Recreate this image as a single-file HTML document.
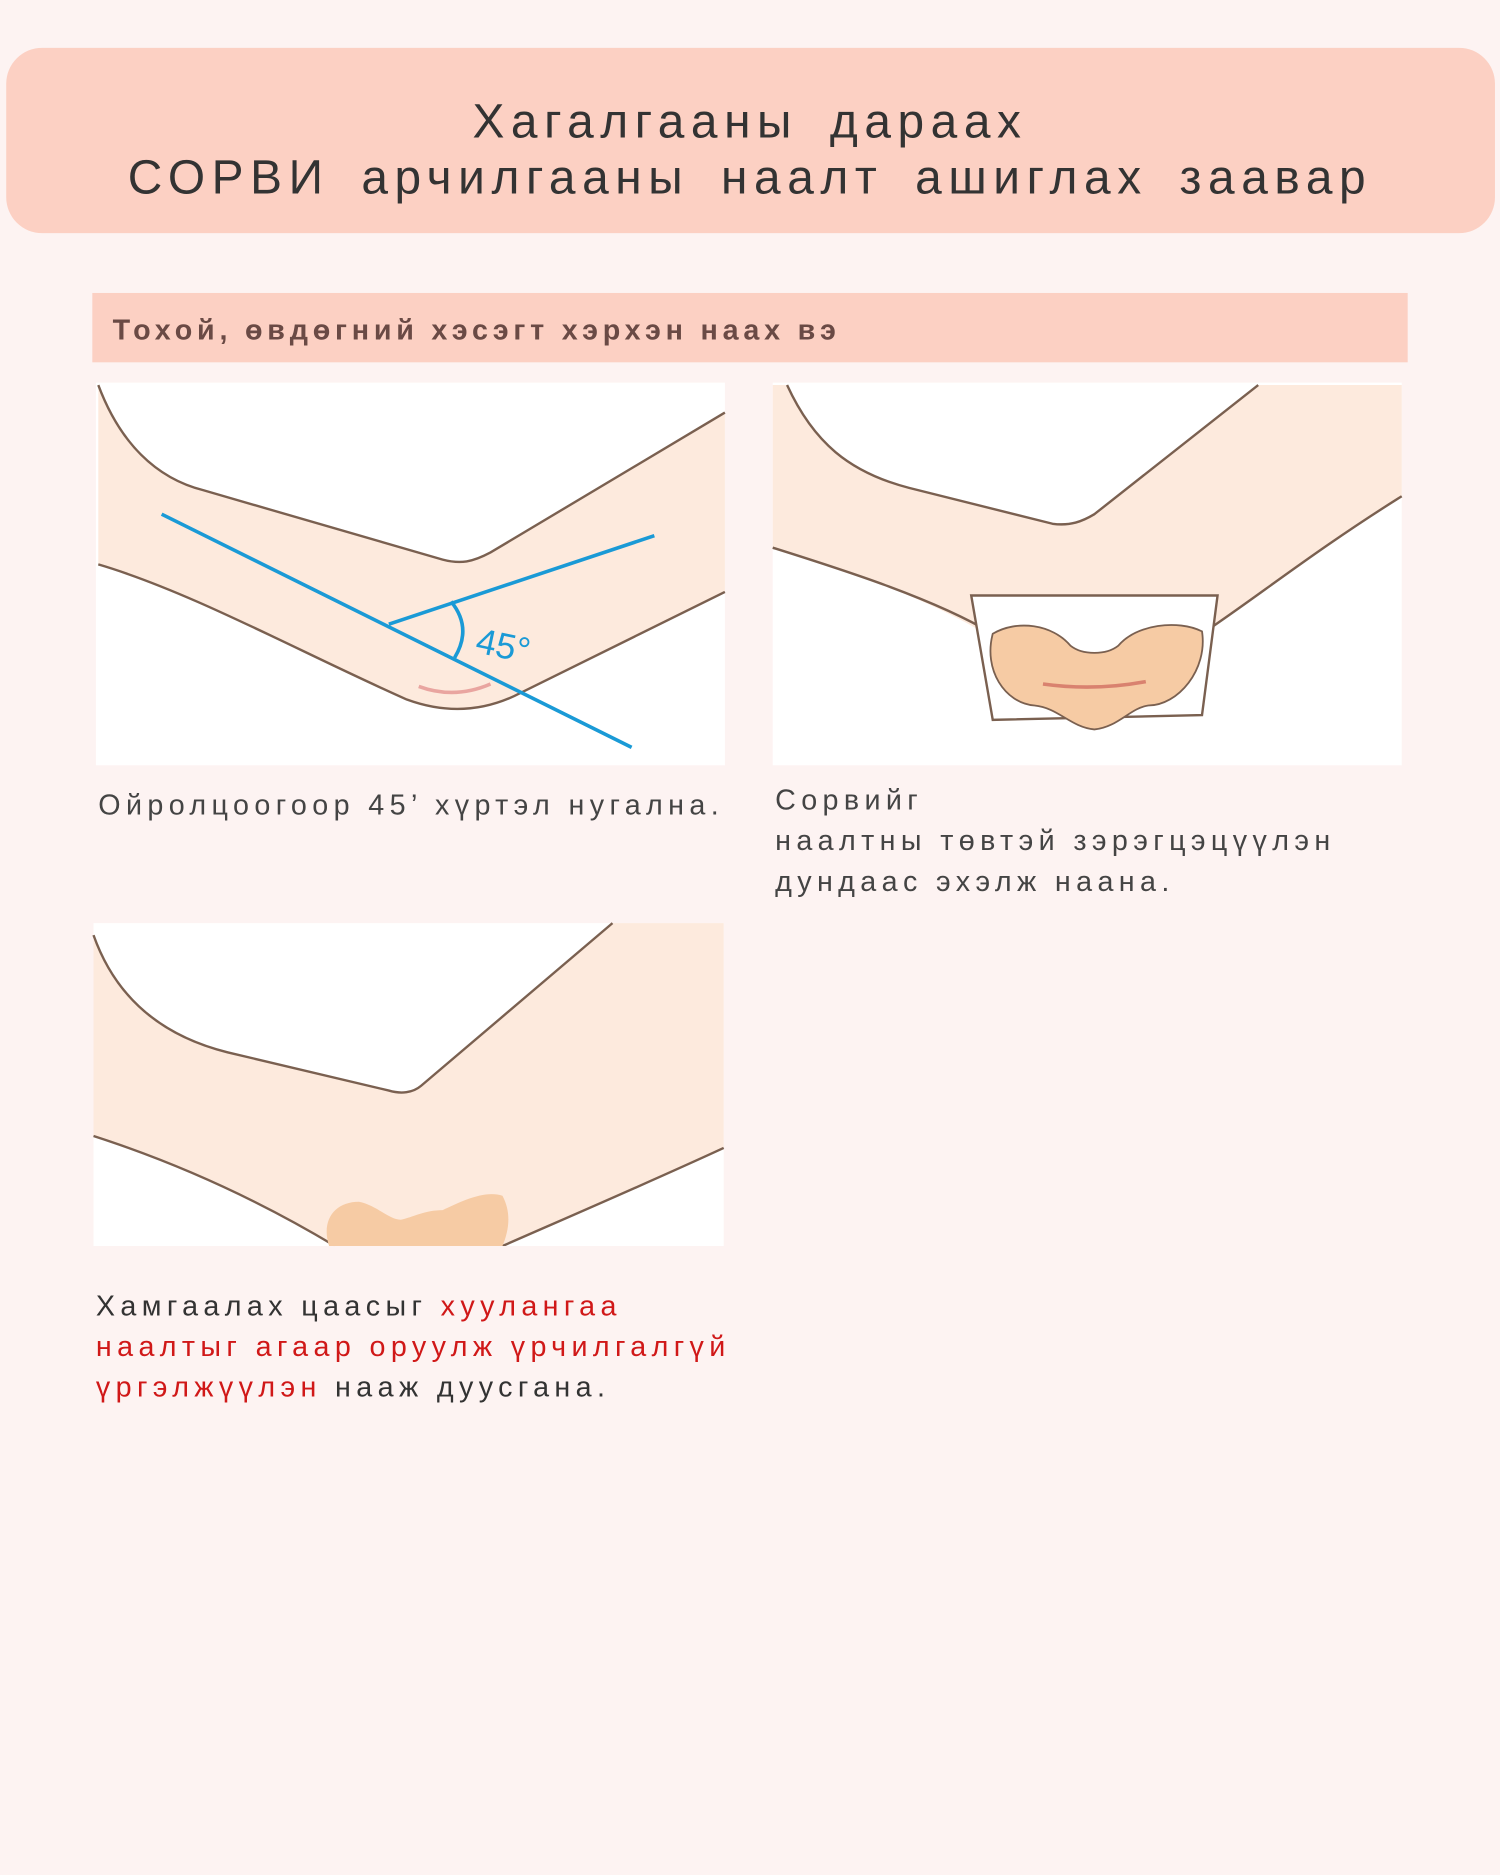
<!DOCTYPE html>
<html><head><meta charset="utf-8"><style>
html,body{margin:0;padding:0;background:#fdf3f2;}
svg{display:block}
text{font-family:"Liberation Sans",sans-serif;}
</style></head><body>
<svg width="1500" height="1875" viewBox="0 0 1254 1568" xmlns="http://www.w3.org/2000/svg">
<rect x="0" y="0" width="1254" height="1568" fill="#fdf3f2"/>
<!-- header -->
<rect x="5" y="40" width="1245" height="155" rx="30" fill="#fcd0c3"/>
<text x="627" y="115" text-anchor="middle" font-size="40" fill="#333" letter-spacing="5.5" word-spacing="10">Хагалгааны дараах</text>
<text x="627" y="162" text-anchor="middle" font-size="40" fill="#333" letter-spacing="5.5" word-spacing="10">СОРВИ арчилгааны наалт ашиглах заавар</text>
<!-- section bar -->
<rect x="77" y="245" width="1100" height="58" fill="#fcd0c3"/>
<text x="94" y="284" font-size="24" font-weight="bold" fill="#6a4a45" letter-spacing="4">Тохой, өвдөгний хэсэгт хэрхэн наах вэ</text>

<!-- panel 1 -->
<rect x="80" y="320" width="526" height="320" fill="#fff"/>
<g>
<path d="M82,322 C100,370 130,400 170,410 L370,468 C385,472 395,470 410,462 L606,345 L606,495 L430,582 C400,596 370,596 340,585 C250,545 160,495 82,472 Z" fill="#fdeadd"/>
<path d="M82,322 C100,370 130,400 170,410 L370,468 C385,472 395,470 410,462 L606,345" fill="none" stroke="#7a6050" stroke-width="2"/>
<path d="M82,472 C160,495 250,545 340,585 C370,596 400,596 430,582 L606,495" fill="none" stroke="#7a6050" stroke-width="2"/>
<path d="M350,574 Q380,585 410,572" fill="none" stroke="#e9a5a0" stroke-width="3"/>
<line x1="135" y1="430" x2="528" y2="625" stroke="#1a9ad6" stroke-width="3"/>
<line x1="325" y1="522" x2="547" y2="448" stroke="#1a9ad6" stroke-width="3"/>
<path d="M377,503 Q395,525 380,550" fill="none" stroke="#1a9ad6" stroke-width="3"/>
<text x="398" y="550" font-size="30" fill="#1a9ad6" transform="rotate(12 420 540)">45°</text>
</g>
<text x="82" y="681" font-size="24" fill="#444" letter-spacing="4.5">Ойролцоогоор 45’ хүртэл нугална.</text>

<!-- panel 2 -->
<rect x="646" y="320" width="526" height="320" fill="#fff"/>
<path d="M658,322 C680,370 710,395 760,408 L880,438 C895,440 905,436 915,430 L1052,322 L1172,322 L1172,415 C1100,460 1040,510 990,540 L840,540 C780,500 700,475 646,458 L646,322 Z" fill="#fdeadd"/>
<path d="M658,322 C680,370 710,395 760,408 L880,438 C895,440 905,436 915,430 L1052,322" fill="none" stroke="#7a6050" stroke-width="2"/>
<path d="M646,458 C700,475 780,500 830,530" fill="none" stroke="#7a6050" stroke-width="2"/>
<path d="M1172,415 C1100,460 1050,500 1005,530" fill="none" stroke="#7a6050" stroke-width="2"/>
<path d="M812,498 L1018,498 L1005,598 L830,602 Z" fill="#fff" stroke="#7a6050" stroke-width="2"/>
<path d="M830,530 C850,518 880,522 895,540 C905,548 925,548 935,540 C950,522 985,518 1005,528 C1010,560 985,590 960,590 C945,592 935,608 915,610 C895,608 885,592 865,590 C840,588 822,560 830,530 Z" fill="#f6cba4" stroke="#7a6050" stroke-width="1.5"/>
<path d="M872,572 Q915,578 958,570" fill="none" stroke="#d9826f" stroke-width="3"/>
<text x="648" y="677" font-size="24" fill="#444" letter-spacing="4.5">Сорвийг</text>
<text x="648" y="711" font-size="24" fill="#444" letter-spacing="4.5">наалтны төвтэй зэрэгцэцүүлэн</text>
<text x="648" y="745" font-size="24" fill="#444" letter-spacing="4.5">дундаас эхэлж наана.</text>

<!-- panel 3 -->
<rect x="78" y="772" width="527" height="270" fill="#fff"/>
<path d="M78,782 C95,830 130,865 190,880 L325,912 C335,915 345,914 352,908 L512,772 L605,772 L605,960 C540,990 470,1020 420,1042 L280,1042 C210,1000 140,970 78,950 Z" fill="#fdeadd"/>
<path d="M78,782 C95,830 130,865 190,880 L325,912 C335,915 345,914 352,908 L512,772" fill="none" stroke="#7a6050" stroke-width="2"/>
<path d="M78,950 C140,970 210,1000 280,1042" fill="none" stroke="#7a6050" stroke-width="2"/>
<path d="M605,960 C540,990 470,1020 420,1042" fill="none" stroke="#7a6050" stroke-width="2"/>
<path d="M275,1042 C268,1020 280,1005 300,1005 C315,1008 325,1020 335,1020 C345,1018 355,1012 370,1012 C385,1005 405,995 420,1000 C428,1015 425,1030 420,1042 Z" fill="#f6cba4"/>
<rect x="78" y="1042" width="527" height="3" fill="#fdf3f2"/>
<text x="80" y="1100" font-size="24" fill="#333" letter-spacing="4.5">Хамгаалах цаасыг <tspan fill="#d01818">хуулангаа</tspan></text>
<text x="80" y="1134" font-size="24" fill="#d01818" letter-spacing="4.5">наалтыг агаар оруулж үрчилгалгүй</text>
<text x="80" y="1168" font-size="24" fill="#333" letter-spacing="4.5"><tspan fill="#d01818">үргэлжүүлэн</tspan> нааж дуусгана.</text>
</svg>
</body></html>
